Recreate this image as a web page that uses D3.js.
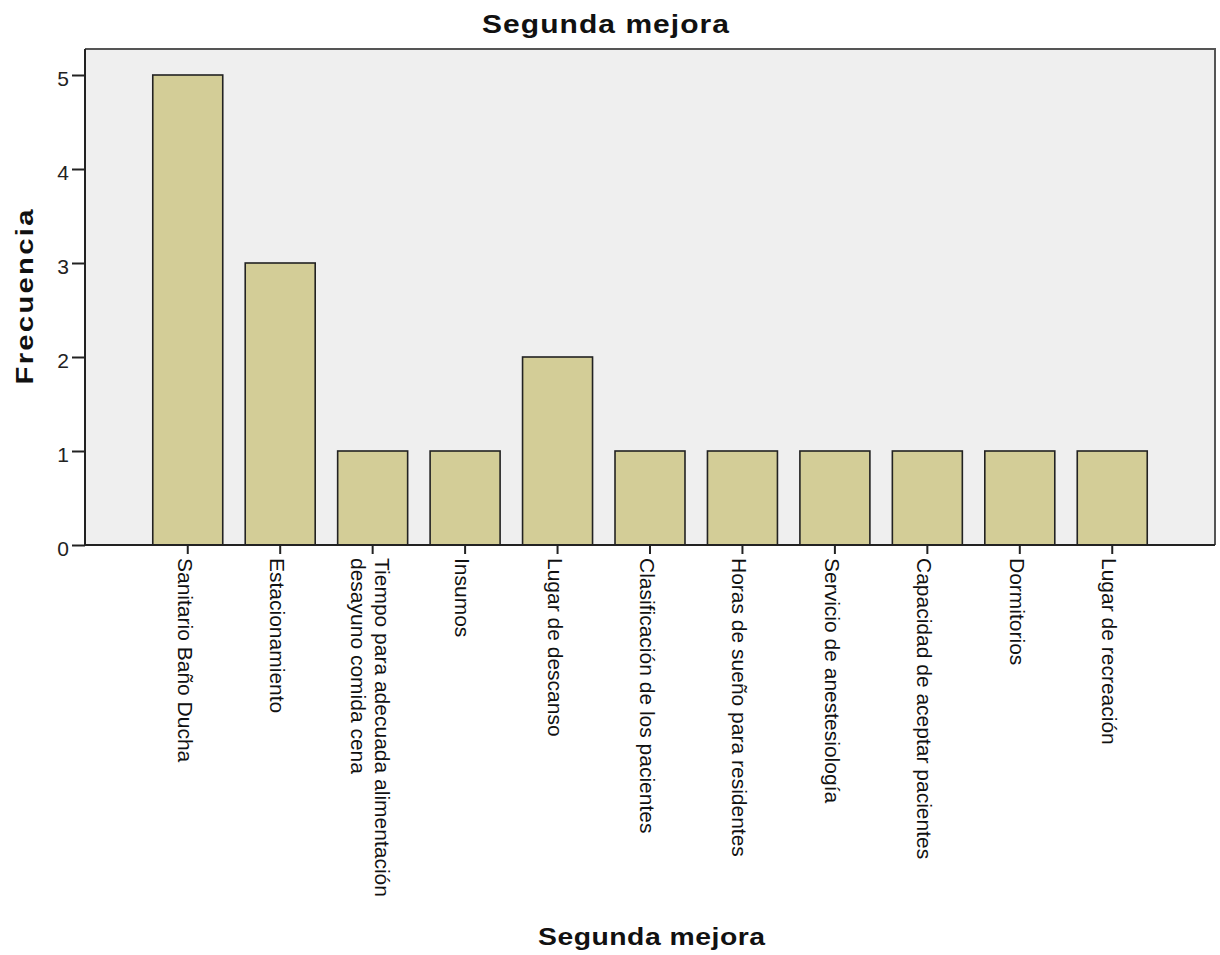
<!DOCTYPE html>
<html><head><meta charset="utf-8">
<script src="https://cdn.jsdelivr.net/npm/d3@7"></script>
<style>body{margin:0;background:#fff}svg{display:block}text{font-family:Arial,"Liberation Sans",sans-serif}</style>
</head><body>
<svg id="chart" width="1220" height="955"></svg>
<script>
const categories = ["Sanitario Baño Ducha","Estacionamiento","Tiempo para adecuada alimentación\ndesayuno comida cena","Insumos","Lugar de descanso","Clasificación de los pacientes","Horas de sueño para residentes","Servicio de anestesiología","Capacidad de aceptar pacientes","Dormitorios","Lugar de recreación"];
const frecuencia = [5,3,1,1,2,1,1,1,1,1,1];
const yTicks = [0,1,2,3,4,5];
const chartTitle = "Segunda mejora";
const xTitle = "Segunda mejora";
const yTitle = "Frecuencia";

const svg = d3.select("#chart");
const L = 85, R = 1215, T = 49, B = 545;

const x = d3.scaleBand().domain(categories).range([L, R]).paddingInner(0.243).paddingOuter(0.733);
const y = d3.scaleLinear().domain([0, 5]).range([B, 75]);

svg.append("rect").attr("x", L).attr("y", T).attr("width", R - L).attr("height", B - T).attr("fill", "#efefef");
svg.append("path").attr("d", `M${L},${T}H${R}V${B}`).attr("fill", "none").attr("stroke", "#555").attr("stroke-width", 2);

svg.append("g").selectAll("rect").data(categories).join("rect")
  .attr("x", d => x(d)).attr("width", x.bandwidth())
  .attr("y", (d, i) => y(frecuencia[i])).attr("height", (d, i) => y(0) - y(frecuencia[i]))
  .attr("fill", "#d3cd97").attr("stroke", "#222").attr("stroke-width", 1.6);

const yAxis = svg.append("g").attr("transform", `translate(${L},0)`)
  .call(d3.axisLeft(y).tickValues(yTicks).tickFormat(d3.format("d")).tickSize(13).tickPadding(3));
yAxis.select(".domain").attr("d", `M0,${T}V${B}`).attr("stroke", "#222").attr("stroke-width", 2);
yAxis.selectAll(".tick line").attr("stroke", "#222").attr("stroke-width", 2);
yAxis.selectAll(".tick text").attr("font-size", 21).attr("fill", "#222").attr("dy", "0.52em").attr("font-family", "Arial, 'Liberation Sans', sans-serif");

const xAxis = svg.append("g").attr("transform", `translate(0,${B})`)
  .call(d3.axisBottom(x).tickSize(9).tickFormat(""));
xAxis.select(".domain").attr("d", `M${L},0H${R}`).attr("stroke", "#222").attr("stroke-width", 2);
xAxis.selectAll(".tick line").attr("stroke", "#222").attr("stroke-width", 2);
xAxis.selectAll(".tick").each(function(d) {
  const lines = d.split("\n");
  const n = lines.length;
  const t = d3.select(this).append("text")
    .attr("transform", "translate(0,13) rotate(90)")
    .attr("text-anchor", "start").attr("fill", "#111").attr("font-size", 21)
    .attr("font-family", "Arial, 'Liberation Sans', sans-serif");
  lines.forEach((s, i) => {
    t.append("tspan").attr("x", 0).attr("y", 10 - ((n - 1) / 2 - i) * 24).text(s);
  });
});

function boldTitle(transform, size, sx, len, txt) {
  svg.append("g").attr("transform", transform + ` scale(${sx},1)`)
    .append("text").attr("x", 0).attr("y", 0).attr("text-anchor", "middle")
    .attr("font-size", size).attr("font-weight", "bold").attr("fill", "#111")
    .attr("textLength", len / sx).attr("lengthAdjust", "spacing").text(txt);
}
boldTitle("translate(605.5,33)", 25, 1.2, 247, chartTitle);
boldTitle("translate(651.5,945)", 24, 1.18, 227, xTitle);
svg.append("g").attr("transform", "translate(33,297) rotate(-90) scale(1.22,1)")
  .append("text").attr("text-anchor", "middle")
  .attr("font-size", 24).attr("font-weight", "bold").attr("fill", "#111")
  .attr("textLength", 175 / 1.22).attr("lengthAdjust", "spacing").text(yTitle);
</script>
</body></html>
